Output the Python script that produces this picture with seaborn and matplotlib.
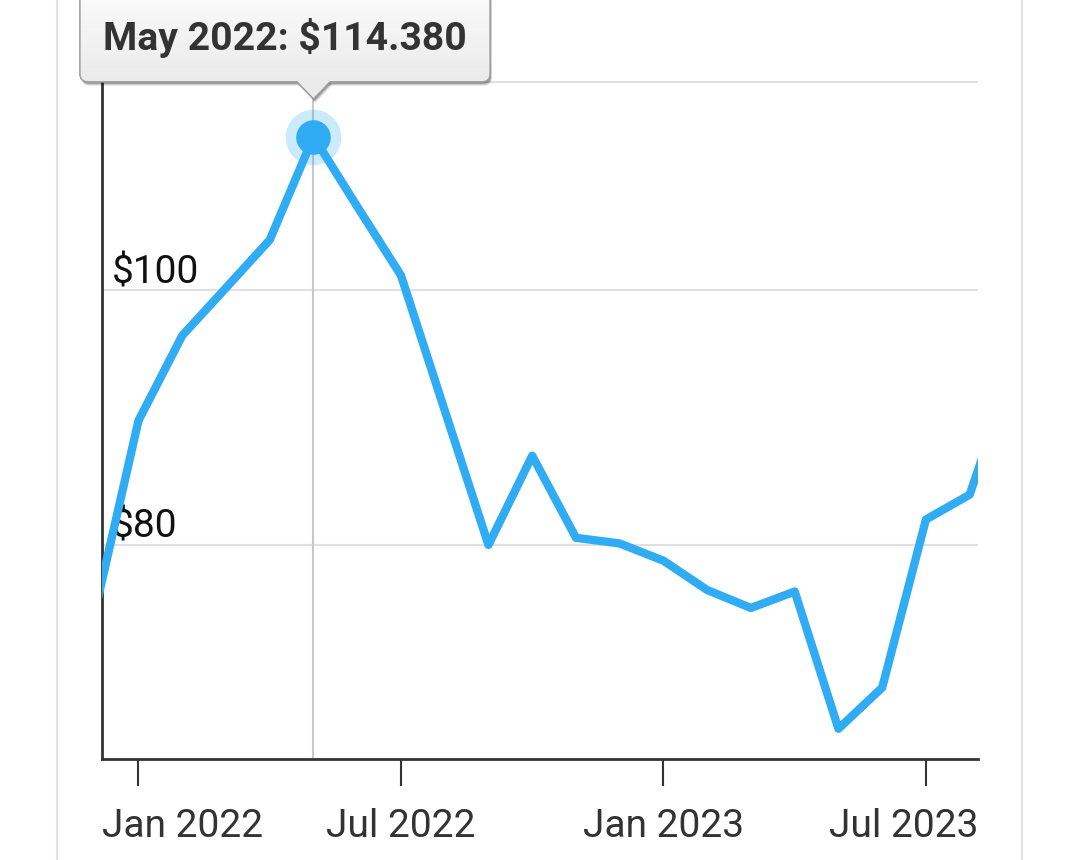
import numpy as np
import pandas as pd
import matplotlib
matplotlib.use("Agg")
import matplotlib.pyplot as plt
import matplotlib.transforms as mtransforms
from matplotlib.patches import FancyBboxPatch, Polygon
from matplotlib.lines import Line2D
from matplotlib.colors import LinearSegmentedColormap
from matplotlib.ticker import FixedLocator, NullLocator
import seaborn as sns

# ---------------- data ----------------
months = ["Dec 2021", "Jan 2022", "Feb 2022", "Mar 2022", "Apr 2022", "May 2022",
          "Jun 2022", "Jul 2022", "Aug 2022", "Sep 2022", "Oct 2022", "Nov 2022",
          "Dec 2022", "Jan 2023", "Feb 2023", "Mar 2023", "Apr 2023", "May 2023",
          "Jun 2023", "Jul 2023", "Aug 2023", "Sep 2023"]
prices = [75.4, 89.2, 96.1, 100.2, 104.5, 114.38,
          107.6, 101.3, 90.0, 80.0, 86.5, 80.5,
          80.1, 78.9, 76.9, 75.7, 76.8, 68.1,
          70.6, 81.8, 83.6, 93.6]
tick_months = ["Jan 2022", "Jul 2022", "Jan 2023", "Jul 2023"]
y_ticks = [80, 100, 120]
y_tick_labels = ["$80", "$100", ""]   # the $120 label sits under the tooltip
highlight_month = "May 2022"
tooltip_text = "May 2022: $114.380"

# ---------------- style ----------------
sns.set_theme(style="white")
plt.rcParams["font.family"] = ["Roboto", "DejaVu Sans"]

LINE_BLUE = "#30acf5"
DPI = 100
W, H = 1080, 860

df = pd.DataFrame({"month": months, "price": prices})
df["idx"] = np.arange(len(df))

fig = plt.figure(figsize=(W / DPI, H / DPI), dpi=DPI)
fig.patch.set_facecolor("white")
ax = fig.add_axes([102 / W, 1 - 759 / H, 876 / W, 719 / H])

h_idx = months.index(highlight_month)
h_val = prices[h_idx]

# crosshair
ax.axvline(h_idx, color="#c8c8c8", lw=1.5, zorder=1)

sns.lineplot(data=df, x="idx", y="price", color=LINE_BLUE, linewidth=6,
             ax=ax, zorder=3)
hl = df[df["month"] == highlight_month]
sns.scatterplot(data=hl, x="idx", y="price", s=1600, color=LINE_BLUE,
                alpha=0.25, linewidth=0, ax=ax, zorder=4)
sns.scatterplot(data=hl, x="idx", y="price", s=620, color=LINE_BLUE,
                linewidth=0, ax=ax, zorder=5)

ax.set_yscale("log")
ax.set_ylim(66.32, 124.5)
ax.set_xlim(0.166, 20.19)

ax.yaxis.set_major_locator(FixedLocator(y_ticks))
ax.yaxis.set_minor_locator(NullLocator())
ax.set_yticks(y_ticks)
ax.set_yticklabels(y_tick_labels)
ax.set_xticks([months.index(m) for m in tick_months])
ax.set_xticklabels(tick_months)
ax.set_xlabel("")
ax.set_ylabel("")

ax.grid(axis="y", color="#e0e0e0", lw=1.5)
ax.grid(axis="x", visible=False)
ax.set_axisbelow(True)

for s in ["top", "right"]:
    ax.spines[s].set_visible(False)
for s in ["left", "bottom"]:
    ax.spines[s].set_color("#333333")
    ax.spines[s].set_linewidth(2)

ax.tick_params(axis="x", bottom=True, direction="out", length=19.5, width=1.5,
               color="#333333", pad=16, labelsize=28, labelcolor="#333333")
ax.tick_params(axis="y", left=False, length=0, pad=-7.2, labelsize=28,
               labelcolor="#111111")

# y labels inside the plot, left aligned, sitting on their gridlines
for lab in ax.get_yticklabels():
    lab.set_ha("left")
    lab.set_va("baseline")
    lab.set_transform(lab.get_transform() +
                      mtransforms.ScaledTranslation(0, 5 / 72, fig.dpi_scale_trans))

# first / last x labels kept inside the axis span
xl = ax.get_xlim()
xlabs = ax.get_xticklabels()
xt = ax.get_xticks()
def px(xv):
    return ax.transData.transform((xv, 100))[0]
dx_first = px(xl[0]) - px(xt[0])
dx_last = px(xl[1]) - px(xt[-1])
xlabs[0].set_ha("left")
xlabs[0].set_transform(xlabs[0].get_transform() +
                       mtransforms.ScaledTranslation(dx_first / DPI, 0, fig.dpi_scale_trans))
xlabs[-1].set_ha("right")
xlabs[-1].set_transform(xlabs[-1].get_transform() +
                        mtransforms.ScaledTranslation(dx_last / DPI, 0, fig.dpi_scale_trans))

# ---------------- card border ----------------
for xb in (57, 1022):
    fig.add_artist(Line2D([xb / W, xb / W], [0, 1], transform=fig.transFigure,
                          color="#e2e2e2", lw=1.5))

# ---------------- tooltip overlay ----------------
ov = fig.add_axes([0, 0, 1, 1], zorder=10)
ov.set_xlim(0, W)
ov.set_ylim(H, 0)
ov.axis("off")

pt = ax.transData.transform((h_idx, h_val))
tip_x = pt[0]
tip_y = H - pt[1] - 38
box_b = tip_y - 17
box_l, box_r, box_t = 80, 490, -20
half = 17

# shadow
for off, a in ((4, 0.10), (3, 0.15), (2, 0.2)):
    sh = FancyBboxPatch((box_l + off * 0.5, box_t + off), box_r - box_l, box_b - box_t,
                        boxstyle="round,pad=0,rounding_size=8", fc="black", ec="none",
                        alpha=a)
    ov.add_patch(sh)
    ov.add_patch(Polygon([(tip_x - half + off * 0.5, box_b + off - 1),
                          (tip_x + half + off * 0.5, box_b + off - 1),
                          (tip_x + off * 0.5, tip_y + off)],
                         closed=True, fc="black", ec="none", alpha=a))

box = FancyBboxPatch((box_l, box_t), box_r - box_l, box_b - box_t,
                     boxstyle="round,pad=0,rounding_size=8", fc="#f4f4f4",
                     ec="#a0a0a0", lw=1)
ov.add_patch(box)
cmap = LinearSegmentedColormap.from_list("tt", ["#fdfdfd", "#ebebeb"])
grad = np.linspace(0, 1, 256).reshape(-1, 1)
im = ov.imshow(grad, cmap=cmap, extent=(box_l, box_r, box_b, box_t),
               aspect="auto", zorder=2.1)
im.set_clip_path(box)
box2 = FancyBboxPatch((box_l, box_t), box_r - box_l, box_b - box_t,
                      boxstyle="round,pad=0,rounding_size=8", fc="none",
                      ec="#a0a0a0", lw=1, zorder=2.2)
ov.add_patch(box2)
ov.add_patch(Polygon([(tip_x - half, box_b - 1.5), (tip_x + half, box_b - 1.5),
                      (tip_x, tip_y)], closed=True, fc="#ebebeb", ec="none",
                     zorder=2.3))
ov.add_line(Line2D([tip_x - half, tip_x, tip_x + half], [box_b, tip_y, box_b],
                   color="#a0a0a0", lw=1, zorder=2.4))
ov.set_xlim(0, W)
ov.set_ylim(H, 0)

ov.text(box_l + 23, 50, tooltip_text, ha="left", va="baseline", fontsize=28.2,
        fontweight="bold", color="#333333", zorder=3)

fig.savefig("out.png", dpi=DPI)
